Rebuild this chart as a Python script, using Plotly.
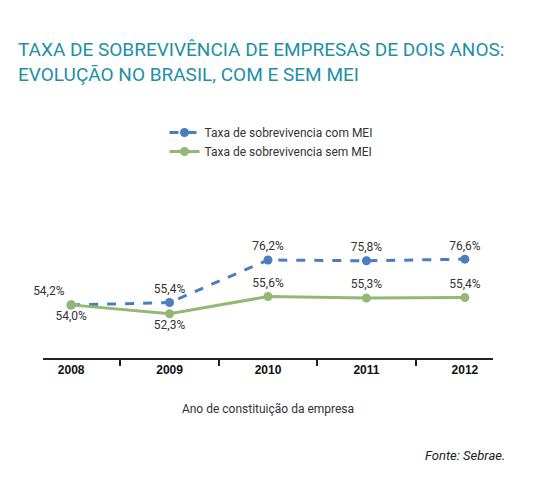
import plotly.graph_objs as go

anos = ['2008', '2009', '2010', '2011', '2012']
com_mei = [54.2, 55.4, 76.2, 75.8, 76.6]
sem_mei = [54.0, 52.3, 55.6, 55.3, 55.4]
lbl_com = ['54,2%', '55,4%', '76,2%', '75,8%', '76,6%']
lbl_sem = ['54,0%', '52,3%', '55,6%', '55,3%', '55,4%']

fig = go.Figure()
fig.add_trace(go.Scatter(
    x=anos, y=com_mei, name='Taxa de sobrevivencia com MEI', mode='lines+markers+text',
    line=dict(color='#4a7ebf', width=3, dash='dash'), marker=dict(size=9, color='#4a7ebf'),
    text=lbl_com, textposition=['top left', 'top center', 'top center', 'top center', 'top center'],
    textfont=dict(size=12, color='#333'), cliponaxis=False))
fig.add_trace(go.Scatter(
    x=anos, y=sem_mei, name='Taxa de sobrevivencia sem MEI', mode='lines+markers+text', yaxis='y2',
    line=dict(color='#93b874', width=3), marker=dict(size=9, color='#93b874'),
    text=lbl_sem, textposition=['bottom center', 'bottom center', 'top center', 'top center', 'top center'],
    textfont=dict(size=12, color='#333'), cliponaxis=False))

fig.update_layout(
    width=546, height=479, paper_bgcolor='white', plot_bgcolor='white',
    margin=dict(l=35, r=61, t=200, b=129, autoexpand=False),
    font=dict(family='Roboto, sans-serif', color='#333'),
    showlegend=True,
    legend=dict(x=0.27, y=1.6, xanchor='left', yanchor='top', font=dict(size=12),
                bgcolor='rgba(0,0,0,0)', tracegroupgap=4),
    xaxis=dict(type='category', showline=True, linecolor='#222', linewidth=2, ticks='outside',
               tickson='boundaries', ticklen=6, tickwidth=2, tickcolor='#222', showgrid=False,
               tickfont=dict(size=12, color='#111', family='Liberation Sans, Arial', weight='bold'),
               title=dict(text='Ano de constituição da empresa', font=dict(size=12), standoff=28)),
    yaxis=dict(range=[28.3, 101.6], visible=False),
    yaxis2=dict(range=[43.8, 72.6], overlaying='y', visible=False),
    annotations=[
        dict(text='TAXA DE SOBREVIVÊNCIA DE EMPRESAS DE DOIS ANOS:<br>EVOLUÇÃO NO BRASIL, COM E SEM MEI',
             xref='paper', yref='paper', x=-0.06, y=1.0 + 172 / 150, xanchor='left', yanchor='top',
             align='left', showarrow=False, font=dict(size=19, color='#1e8fa5')),
        dict(text='<i>Fonte: Sebrae.</i>', xref='paper', yref='paper', x=1.03, y=-97 / 150,
             xanchor='right', yanchor='middle', showarrow=False, font=dict(size=13, color='#222')),
    ],
)
fig.write_html("out.html")
